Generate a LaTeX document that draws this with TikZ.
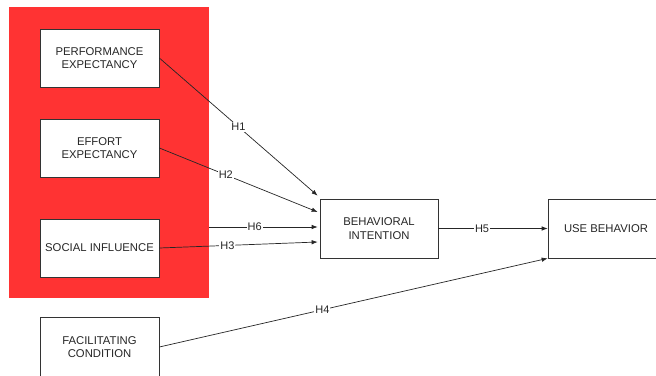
\documentclass[tikz,border=0pt]{standalone}
\usepackage{fontspec}
\setmainfont{Liberation Sans}
\usetikzlibrary{arrows.meta,calc}
\definecolor{redbg}{RGB}{255,51,51}
\begin{document}
\begin{tikzpicture}[x=1pt,y=-1pt,
  box/.style={draw=black!80, line width=0.7pt, fill=white, minimum width=119pt, minimum height=58pt,
    align=center, inner sep=0pt, font=\fontsize{11.3}{13.5}\selectfont, text=black!85},
  conn/.style={draw=black!85, line width=0.7pt, -{Latex[length=6pt,width=4.5pt]}},
  hl/.style={fill=white, inner sep=1pt, font=\fontsize{11}{12}\selectfont, text=black!85}]
\useasboundingbox (0,0) rectangle (656,375);
\fill[white] (0,0) rectangle (656,375);
\node[fill=redbg, minimum width=200pt, minimum height=291pt, inner sep=0pt] (grp) at (109,152.5) {};
\node[box] (pe) at (99.5,58) {PERFORMANCE\\EXPECTANCY};
\node[box] (ee) at (99.5,148) {EFFORT\\EXPECTANCY};
\node[box] (si) at (99.5,248) {SOCIAL INFLUENCE};
\node[box, minimum height=60pt] (fc) at (99.5,347) {FACILITATING\\CONDITION};
\node[box, minimum width=118pt, minimum height=59pt] (bi) at (379,228.5) {BEHAVIORAL\\INTENTION};
\node[box, minimum width=116pt, minimum height=59pt] (ub) at (606,228.5) {USE BEHAVIOR};
\coordinate (t1) at ($(bi.north west)+(-2,-3)$);
\coordinate (t2) at ($(bi.west)+(-2,-16.5)$);
\coordinate (t6) at ($(bi.west)+(-2,-1.5)$);
\coordinate (t3) at ($(bi.west)+(-2,13.5)$);
\draw[conn] (pe.east) -- node[hl, pos=0.5] {H1} (t1);
\draw[conn] (ee.east) -- node[hl, pos=0.42] {H2} (t2);
\draw[conn] (grp.east |- t6) -- node[hl, pos=0.42] {H6} (t6);
\draw[conn] (si.east) -- node[hl, pos=0.43] {H3} (t3);
\draw[conn] (bi.east) -- node[hl, pos=0.4] {H5} (ub.west);
\draw[conn] (fc.east) -- node[hl, pos=0.42] {H4} (ub.south west);
\end{tikzpicture}
\end{document}
